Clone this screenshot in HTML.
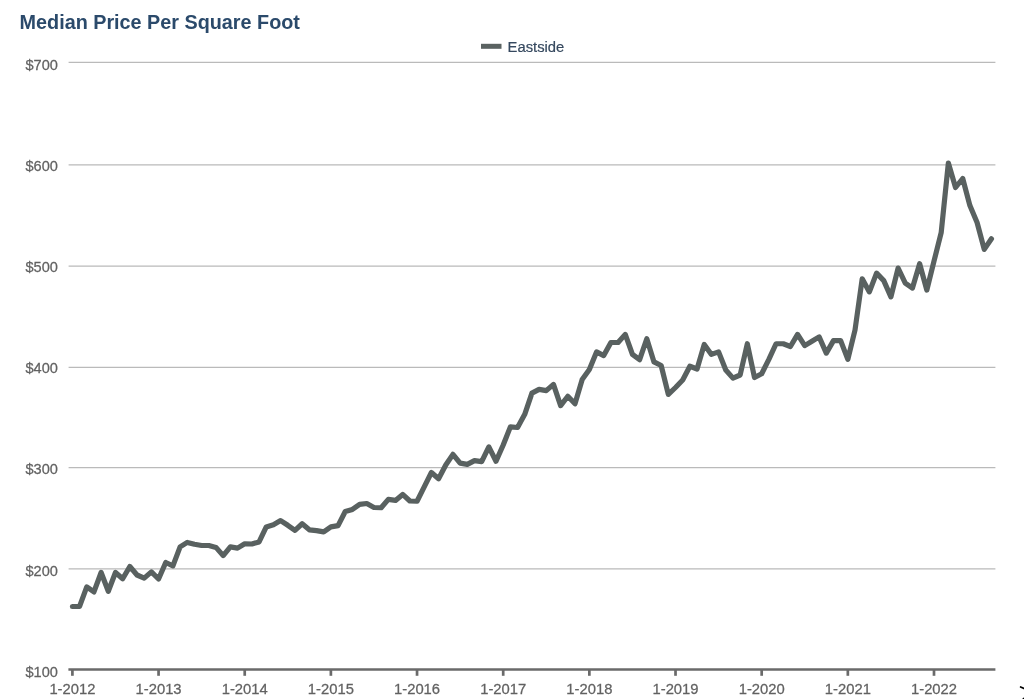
<!DOCTYPE html>
<html><head><meta charset="utf-8"><title>Median Price Per Square Foot</title>
<style>
html,body{margin:0;padding:0;background:#fff;}
body{width:1024px;height:699px;overflow:hidden;position:relative;font-family:"Liberation Sans",Arial,sans-serif;}
svg{position:absolute;left:0;top:0;display:block;}
text{font-family:"Liberation Sans",Arial,sans-serif;}
.title{font-weight:bold;font-size:19.8px;fill:#2b4a6b;}
.lbl{font-size:14.8px;fill:#626262;stroke:#626262;stroke-width:0.25px;}
.ylb{font-size:14.6px;}
.leg{font-size:14.8px;fill:#36495f;stroke:#36495f;stroke-width:0.2px;}
</style></head><body>
<svg width="1024" height="699" viewBox="0 0 1024 699">
<rect width="1024" height="699" fill="#ffffff"/>
<text class="title" x="19.6" y="29.2">Median Price Per Square Foot</text>
<rect x="481" y="43.8" width="20.5" height="5" fill="#5a6261"/>

<text class="leg" transform="translate(507.60,51.70) scale(1,1.05)" text-anchor="start">Eastside</text>
<line x1="68.6" x2="995.4" y1="62.25" y2="62.25" stroke="#bababa" stroke-width="1.25"/>
<line x1="68.6" x2="995.4" y1="164.75" y2="164.75" stroke="#bababa" stroke-width="1.25"/>
<line x1="68.6" x2="995.4" y1="266.0" y2="266.0" stroke="#bababa" stroke-width="1.25"/>
<line x1="68.6" x2="995.4" y1="367.4" y2="367.4" stroke="#bababa" stroke-width="1.25"/>
<line x1="68.6" x2="995.4" y1="467.5" y2="467.5" stroke="#bababa" stroke-width="1.25"/>
<line x1="68.6" x2="995.4" y1="568.85" y2="568.85" stroke="#bababa" stroke-width="1.25"/>
<text class="lbl ylb" transform="translate(57.90,70.10) scale(1,1.05)" text-anchor="end">$700</text>
<text class="lbl ylb" transform="translate(57.90,171.18) scale(1,1.05)" text-anchor="end">$600</text>
<text class="lbl ylb" transform="translate(57.90,272.26) scale(1,1.05)" text-anchor="end">$500</text>
<text class="lbl ylb" transform="translate(57.90,373.34) scale(1,1.05)" text-anchor="end">$400</text>
<text class="lbl ylb" transform="translate(57.90,474.42) scale(1,1.05)" text-anchor="end">$300</text>
<text class="lbl ylb" transform="translate(57.90,575.50) scale(1,1.05)" text-anchor="end">$200</text>
<text class="lbl ylb" transform="translate(57.90,676.58) scale(1,1.05)" text-anchor="end">$100</text>
<line x1="68.4" x2="995.4" y1="669.45" y2="669.45" stroke="#6a6a6a" stroke-width="2.6"/>
<line x1="72.40" x2="72.40" y1="669.4" y2="675.8" stroke="#6a6a6a" stroke-width="2.7"/>
<text class="lbl" transform="translate(72.40,693.95) scale(1,1.05)" text-anchor="middle">1-2012</text>
<line x1="158.56" x2="158.56" y1="669.4" y2="675.8" stroke="#6a6a6a" stroke-width="2.7"/>
<text class="lbl" transform="translate(158.56,693.95) scale(1,1.05)" text-anchor="middle">1-2013</text>
<line x1="244.72" x2="244.72" y1="669.4" y2="675.8" stroke="#6a6a6a" stroke-width="2.7"/>
<text class="lbl" transform="translate(244.72,693.95) scale(1,1.05)" text-anchor="middle">1-2014</text>
<line x1="330.88" x2="330.88" y1="669.4" y2="675.8" stroke="#6a6a6a" stroke-width="2.7"/>
<text class="lbl" transform="translate(330.88,693.95) scale(1,1.05)" text-anchor="middle">1-2015</text>
<line x1="417.04" x2="417.04" y1="669.4" y2="675.8" stroke="#6a6a6a" stroke-width="2.7"/>
<text class="lbl" transform="translate(417.04,693.95) scale(1,1.05)" text-anchor="middle">1-2016</text>
<line x1="503.20" x2="503.20" y1="669.4" y2="675.8" stroke="#6a6a6a" stroke-width="2.7"/>
<text class="lbl" transform="translate(503.20,693.95) scale(1,1.05)" text-anchor="middle">1-2017</text>
<line x1="589.36" x2="589.36" y1="669.4" y2="675.8" stroke="#6a6a6a" stroke-width="2.7"/>
<text class="lbl" transform="translate(589.36,693.95) scale(1,1.05)" text-anchor="middle">1-2018</text>
<line x1="675.52" x2="675.52" y1="669.4" y2="675.8" stroke="#6a6a6a" stroke-width="2.7"/>
<text class="lbl" transform="translate(675.52,693.95) scale(1,1.05)" text-anchor="middle">1-2019</text>
<line x1="761.68" x2="761.68" y1="669.4" y2="675.8" stroke="#6a6a6a" stroke-width="2.7"/>
<text class="lbl" transform="translate(761.68,693.95) scale(1,1.05)" text-anchor="middle">1-2020</text>
<line x1="847.84" x2="847.84" y1="669.4" y2="675.8" stroke="#6a6a6a" stroke-width="2.7"/>
<text class="lbl" transform="translate(847.84,693.95) scale(1,1.05)" text-anchor="middle">1-2021</text>
<line x1="934.00" x2="934.00" y1="669.4" y2="675.8" stroke="#6a6a6a" stroke-width="2.7"/>
<text class="lbl" transform="translate(934.00,693.95) scale(1,1.05)" text-anchor="middle">1-2022</text>
<polyline fill="none" stroke="#596160" stroke-width="5.2" stroke-linejoin="round" stroke-linecap="round" points="72.40,606.50 79.58,606.30 86.76,586.90 93.94,591.90 101.12,572.50 108.30,591.30 115.48,572.50 122.66,578.80 129.84,566.50 137.02,575.00 144.20,578.10 151.38,571.90 158.56,579.00 165.74,562.50 172.92,565.80 180.10,546.90 187.28,542.40 194.46,544.25 201.64,545.50 208.82,545.50 216.00,547.40 223.18,555.60 230.36,546.90 237.54,548.10 244.72,543.75 251.90,544.00 259.08,541.90 266.26,526.90 273.44,524.75 280.62,520.60 287.80,525.30 294.98,530.30 302.16,523.75 309.34,529.80 316.52,530.60 323.70,531.90 330.88,526.90 338.06,525.60 345.24,511.50 352.42,509.40 359.60,504.40 366.78,503.50 373.96,507.50 381.14,507.75 388.32,499.40 395.50,500.40 402.68,494.40 409.86,501.00 417.04,501.25 424.22,486.90 431.40,472.50 438.58,478.75 445.76,465.00 452.94,454.35 460.12,463.10 467.30,464.35 474.48,460.60 481.66,461.60 488.84,446.90 496.02,461.25 503.20,445.00 510.38,426.90 517.56,427.50 524.74,414.30 531.92,393.10 539.10,389.40 546.28,390.60 553.46,384.40 560.64,405.60 567.82,396.25 575.00,403.75 582.18,379.40 589.36,369.40 596.54,351.90 603.72,355.60 610.90,342.50 618.08,342.50 625.26,334.40 632.44,354.40 639.62,359.70 646.80,338.75 653.98,361.90 661.16,365.50 668.34,394.40 675.52,387.50 682.70,380.00 689.88,366.25 697.06,369.00 704.24,344.40 711.42,354.40 718.60,351.90 725.78,370.00 732.96,378.10 740.14,375.00 747.32,343.75 754.50,377.50 761.68,373.75 768.86,359.40 776.04,343.75 783.22,343.75 790.40,346.50 797.58,334.40 804.76,345.60 811.94,341.25 819.12,336.90 826.30,353.10 833.48,340.60 840.66,340.60 847.84,359.40 855.02,330.00 862.20,278.75 869.38,291.90 876.56,273.10 883.74,280.60 890.92,296.90 898.10,268.10 905.28,283.10 912.46,288.10 919.64,263.75 926.82,290.00 934.00,261.20 941.18,232.70 948.36,163.10 955.54,187.50 962.72,178.50 969.90,205.60 977.08,222.50 984.26,249.40 991.44,238.80"/>
<path d="M1020.6 687 L1024 688.5" stroke="#000" stroke-width="1.7" stroke-linecap="round" fill="none"/><circle cx="1024" cy="699" r="1.6" fill="#000"/>
</svg></body></html>
